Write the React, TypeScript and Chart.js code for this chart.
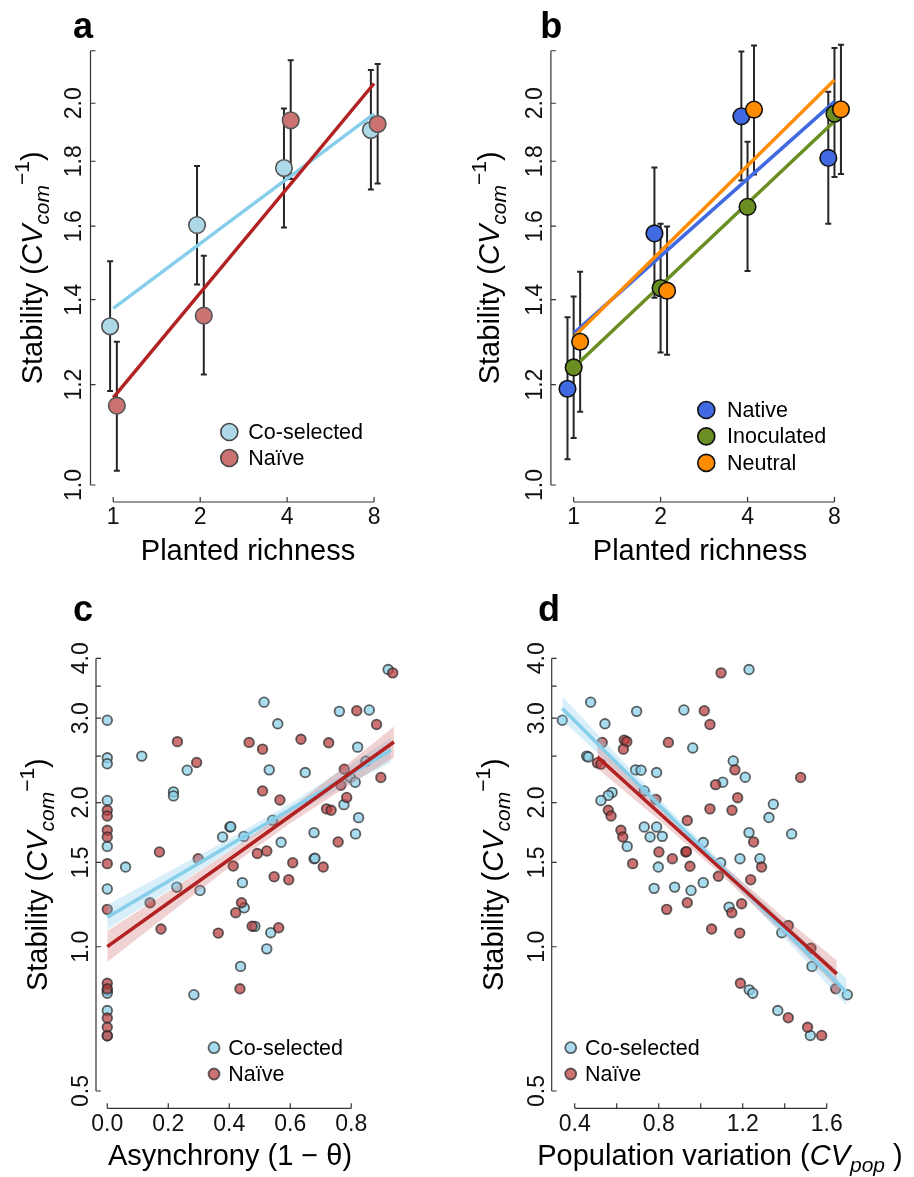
import React, { useEffect, useRef } from "react";
import { Chart, registerables } from "chart.js";
Chart.register(...registerables);

const FONT = '"Liberation Sans", Arial, Helvetica, sans-serif';

// ---------------- Panel a: planted richness, co-selected vs naive ----------------
const richness = [1, 2, 4, 8];
const aCoMean = [1.334, 1.603, 1.778, 1.905];
const aCoLo = [1.186, 1.439, 1.596, 1.71];
const aCoHi = [1.501, 1.785, 1.981, 2.124];
const aNaMean = [1.155, 1.36, 1.939, 1.926];
const aNaLo = [1.026, 1.222, 1.743, 1.729];
const aNaHi = [1.297, 1.516, 2.162, 2.148];
const fitRichness = [1, 8];
const aCoFit = [1.378, 1.962];
const aNaFit = [1.172, 2.073];

// ---------------- Panel b: native / inoculated / neutral ----------------
const bNatMean = [1.191, 1.579, 1.953, 1.811];
const bNatLo = [1.048, 1.405, 1.738, 1.607];
const bNatHi = [1.356, 1.78, 2.197, 2.042];
const bInoMean = [1.238, 1.43, 1.657, 1.962];
const bInoLo = [1.089, 1.272, 1.475, 1.749];
const bInoHi = [1.408, 1.607, 1.865, 2.211];
const bNeuMean = [1.297, 1.423, 1.977, 1.978];
const bNeuLo = [1.142, 1.267, 1.757, 1.759];
const bNeuHi = [1.473, 1.599, 2.221, 2.224];
const bNatFit = [1.317, 2.006];
const bInoFit = [1.238, 1.936];
const bNeuFit = [1.308, 2.086];

// ---------------- Panel c: asynchrony ----------------
const cCoX = [0, 0, 0, 0, 0, 0, 0.06, 0.113, 0.217, 0.217, 0.262, 0.228, 0.304, 0.378, 0.402, 0.405, 0.448, 0.443, 0.449, 0.484, 0.536, 0.514, 0.559, 0.531, 0.542, 0.57, 0.649, 0.678, 0.678, 0.681, 0.761, 0.859, 0.821, 0.848, 0.796, 0.813, 0.776, 0.824, 0.814, 0.921, 0.523, 0.437, 0.284, 0, 0, 0, 0];
const cCoY = [2.97, 2.48, 2.41, 2.02, 1.62, 1.32, 1.467, 2.5, 2.105, 2.065, 2.336, 1.332, 1.311, 1.695, 1.778, 1.781, 1.7, 1.361, 1.206, 1.103, 1.07, 3.24, 2.92, 2.34, 1.837, 1.652, 2.31, 1.731, 1.527, 1.53, 3.1, 3.12, 2.61, 2.44, 2.26, 2.205, 1.98, 1.86, 1.72, 3.79, 0.99, 0.91, 0.794, 0.81, 0.8, 0.736, 0.652];
const cNaX = [0, 0, 0, 0, 0, 0, 0.23, 0.293, 0.171, 0.298, 0.14, 0.176, 0.364, 0.413, 0.44, 0.421, 0.465, 0.509, 0.509, 0.566, 0.492, 0.523, 0.547, 0.595, 0.608, 0.475, 0.562, 0.635, 0.726, 0.708, 0.757, 0.719, 0.734, 0.766, 0.777, 0.785, 0.818, 0.883, 0.897, 0.936, 0, 0, 0, 0, 0, 0.435];
const cNaY = [1.927, 1.875, 1.75, 1.695, 1.491, 1.197, 2.68, 2.425, 1.577, 1.527, 1.236, 1.089, 1.068, 1.474, 1.236, 1.178, 2.67, 2.585, 2.115, 2.025, 1.565, 1.585, 1.4, 1.38, 1.498, 1.104, 1.096, 2.71, 2.665, 1.467, 1.655, 1.94, 1.927, 2.174, 2.348, 2.049, 3.11, 2.91, 2.256, 3.73, 0.839, 0.817, 0.71, 0.679, 0.652, 0.817];
const cCoFitX = [0, 0.2, 0.4, 0.6, 0.8, 0.93];
const cCoFit = [1.153, 1.37, 1.628, 1.935, 2.3, 2.573];
const cCoUpper = [1.224, 1.433, 1.678, 1.99, 2.406, 2.732];
const cCoLower = [1.086, 1.31, 1.58, 1.882, 2.199, 2.423];
const cNaFitX = [0, 0.2, 0.4, 0.6, 0.8, 0.94];
const cNaFit = [1.001, 1.234, 1.521, 1.875, 2.311, 2.676];
const cNaUpper = [1.079, 1.304, 1.58, 1.942, 2.442, 2.884];
const cNaLower = [0.929, 1.168, 1.465, 1.811, 2.188, 2.482];

// ---------------- Panel d: population variation ----------------
const dCoX = [0.341, 0.476, 0.544, 0.457, 0.465, 0.695, 0.69, 0.716, 0.79, 0.92, 0.962, 0.578, 0.56, 0.525, 0.731, 0.731, 0.79, 0.759, 0.817, 0.65, 0.798, 0.778, 0.876, 0.954, 1.012, 1.012, 1.095, 1.105, 1.155, 1.212, 1.23, 1.187, 1.23, 1.282, 1.346, 1.325, 1.433, 1.135, 1.386, 1.53, 1.698, 1.231, 1.248, 1.367, 1.522];
const dCoY = [2.97, 3.24, 2.92, 2.5, 2.49, 3.1, 2.34, 2.336, 2.31, 3.12, 2.6, 2.1, 2.07, 2.02, 2.115, 1.778, 1.778, 1.695, 1.7, 1.62, 1.467, 1.324, 1.332, 1.311, 1.361, 1.65, 1.498, 2.205, 2.443, 2.259, 3.79, 1.527, 1.731, 1.527, 1.984, 1.861, 1.72, 1.21, 1.07, 0.91, 0.794, 0.813, 0.8, 0.736, 0.653];
const dNaX = [0.531, 0.636, 0.648, 0.632, 0.508, 0.525, 0.846, 1.017, 1.044, 1.097, 0.56, 0.573, 0.62, 0.629, 0.676, 0.787, 0.801, 0.865, 0.929, 0.932, 0.936, 0.949, 0.838, 0.936, 1.052, 1.186, 1.148, 1.195, 1.238, 1.084, 1.044, 1.149, 1.071, 1.163, 1.176, 1.252, 1.29, 1.476, 1.417, 1.525, 1.643, 1.189, 1.417, 1.509, 1.576];
const dNaY = [2.67, 2.7, 2.68, 2.585, 2.42, 2.405, 2.67, 3.11, 2.91, 3.73, 1.927, 1.875, 1.75, 1.695, 1.491, 2.03, 1.577, 1.527, 1.577, 1.58, 1.834, 1.472, 1.197, 1.236, 1.089, 1.068, 1.178, 1.23, 1.38, 1.403, 1.94, 1.927, 2.18, 2.34, 2.047, 1.655, 1.467, 2.256, 1.108, 0.993, 0.817, 0.839, 0.711, 0.679, 0.653];
const dCoFitX = [0.341, 0.6, 0.9, 1.2, 1.5, 1.695];
const dCoFit = [3.144, 2.422, 1.79, 1.323, 0.978, 0.804];
const dCoUpper = [3.332, 2.516, 1.836, 1.357, 1.023, 0.858];
const dCoLower = [2.967, 2.332, 1.746, 1.291, 0.935, 0.753];
const dNaFitX = [0.508, 0.8, 1.1, 1.4, 1.648];
const dNaFit = [2.491, 1.907, 1.45, 1.102, 0.878];
const dNaUpper = [2.634, 1.975, 1.491, 1.147, 0.937];
const dNaLower = [2.355, 1.841, 1.41, 1.059, 0.823];

// ---------------- Axis ticks ----------------
const richTicks = [1, 2, 4, 8];
const richLabels = ["1", "2", "4", "8"];
const stabTicksAB = [1.0, 1.2, 1.4, 1.6, 1.8, 2.0, 2.2];
const stabLabelsAB = ["1.0", "1.2", "1.4", "1.6", "1.8", "2.0", null];
const stabTicksCD = [0.5, 1.0, 1.5, 2.0, 2.5, 3.0, 3.5, 4.0];
const stabLabelsCD = ["0.5", "1.0", "1.5", "2.0", null, "3.0", null, "4.0"];
const asyncTicks = [0, 0.2, 0.4, 0.6, 0.8];
const asyncLabels = ["0.0", "0.2", "0.4", "0.6", "0.8"];
const cvpopTicks = [0.4, 0.6, 0.8, 1.0, 1.2, 1.4, 1.6];
const cvpopLabels = ["0.4", null, "0.8", null, "1.2", null, "1.6"];

// ---------------- Styles ----------------
const DODGE_A = { co: 0.975, na: 1.029 };
const DODGE_B = { nat: 0.952, ino: 1.0, neu: 1.053 };
const C_LIGHTBLUE = "#ADD8E6";
const C_SKY = "#87CEEB";
const C_PINK = "#CB7373";
const C_FIRE = "#B22222";
const C_ROYAL = "#4169E1";
const C_OLIVE = "#6B8E23";
const C_ORANGE = "#FF8C00";
const SC_BLUE = "rgba(140,208,232,0.75)";
const SC_RED = "rgba(185,60,60,0.72)";
const SC_EDGE = "rgba(40,40,40,0.72)";
const BAND_BLUE = "rgba(135,206,235,0.32)";
const BAND_RED = "rgba(205,92,92,0.28)";

type Seg = { t: string; size: number; italic?: boolean; bold?: boolean; dy?: number };

const segFont = (s: Seg) => `${s.italic ? "italic " : ""}${s.bold ? "bold " : ""}${s.size}px ${FONT}`;

function drawSegs(ctx: CanvasRenderingContext2D, segs: Seg[], x: number, y: number, rot: number) {
  ctx.save();
  ctx.translate(x, y);
  ctx.rotate(rot);
  ctx.textAlign = "left";
  ctx.textBaseline = "alphabetic";
  let total = 0;
  const widths = segs.map((s) => {
    ctx.font = segFont(s);
    const w = ctx.measureText(s.t).width;
    total += w;
    return w;
  });
  let cx = -total / 2;
  segs.forEach((s, i) => {
    ctx.font = segFont(s);
    ctx.fillText(s.t, cx, s.dy || 0);
    cx += widths[i];
  });
  ctx.restore();
}

const stabTitle: Seg[] = [
  { t: "Stability (", size: 29 },
  { t: "CV", size: 29, italic: true },
  { t: "com", size: 21, italic: true, dy: 7 },
  { t: "\u2212", size: 21, dy: -13 },
  { t: "1", size: 21, dy: -13 },
  { t: ")", size: 29 },
];

function pts(xs: number[], ys: number[], fill: string, stroke: string, r: number, bw: number, order: number) {
  return {
    type: "line",
    data: xs.map((x, i) => ({ x, y: ys[i] })),
    showLine: false,
    pointRadius: r,
    pointHoverRadius: r,
    pointBackgroundColor: fill,
    pointBorderColor: stroke,
    pointBorderWidth: bw,
    order,
    clip: false,
  };
}
function fitLine(xs: number[], ys: number[], color: string, w: number, order: number) {
  return {
    type: "line",
    data: xs.map((x, i) => ({ x, y: ys[i] })),
    borderColor: color,
    borderWidth: w,
    pointRadius: 0,
    fill: false,
    tension: 0,
    order,
    clip: false,
  };
}
function bandPair(xs: number[], up: number[], lo: number[], color: string, order: number) {
  return [
    {
      type: "line",
      data: xs.map((x, i) => ({ x, y: up[i] })),
      borderColor: "transparent",
      borderWidth: 0,
      pointRadius: 0,
      backgroundColor: color,
      fill: "+1",
      tension: 0,
      order,
      clip: false,
    },
    {
      type: "line",
      data: xs.map((x, i) => ({ x, y: lo[i] })),
      borderColor: "transparent",
      borderWidth: 0,
      pointRadius: 0,
      fill: false,
      tension: 0,
      order,
      clip: false,
    },
  ];
}

type LegendRow = { label: string; fill: string; stroke: string; r: number; bw: number; y: number };
type Panel = {
  left: number;
  top: number;
  pad: { left: number; top: number; right: number; bottom: number };
  xType: "logarithmic" | "linear";
  xMin: number;
  xMax: number;
  yMin: number;
  yMax: number;
  xTicks: number[];
  xLabels: (string | null)[];
  yTicks: number[];
  yLabels: (string | null)[];
  yLabelOff: number;
  datasets: any[];
  errorBars: { x: number[]; lo: number[]; hi: number[] }[];
  letter: { t: string; x: number; y: number };
  yTitleX: number;
  xTitle: Seg[];
  xTitleX: number;
  xTitleY: number;
  legendCircleX: number;
  legendTextX: number;
  legend: LegendRow[];
};

function decorPlugin(p: Panel) {
  return {
    id: "decor",
    beforeDatasetsDraw(chart: any) {
      const ctx: CanvasRenderingContext2D = chart.ctx;
      const xs = chart.scales.x;
      const ys = chart.scales.y;
      ctx.save();
      ctx.strokeStyle = "#262626";
      ctx.lineWidth = 2;
      p.errorBars.forEach((g) => {
        g.x.forEach((xv, i) => {
          const px = xs.getPixelForValue(xv);
          const pl = ys.getPixelForValue(g.lo[i]);
          const ph = ys.getPixelForValue(g.hi[i]);
          ctx.beginPath();
          ctx.moveTo(px, pl);
          ctx.lineTo(px, ph);
          ctx.moveTo(px - 3, pl);
          ctx.lineTo(px + 3, pl);
          ctx.moveTo(px - 3, ph);
          ctx.lineTo(px + 3, ph);
          ctx.stroke();
        });
      });
      ctx.restore();
    },
    afterDraw(chart: any) {
      const ctx: CanvasRenderingContext2D = chart.ctx;
      const xs = chart.scales.x;
      const ys = chart.scales.y;
      const { left, bottom } = chart.chartArea;
      ctx.save();
      ctx.strokeStyle = "#333";
      ctx.fillStyle = "#111";
      ctx.lineWidth = 1.2;
      // y axis
      const yT = ys.getPixelForValue(p.yTicks[p.yTicks.length - 1]);
      const yB = ys.getPixelForValue(p.yTicks[0]);
      ctx.beginPath();
      ctx.moveTo(left, yT);
      ctx.lineTo(left, yB);
      p.yTicks.forEach((t) => {
        const py = ys.getPixelForValue(t);
        ctx.moveTo(left, py);
        ctx.lineTo(left + 5, py);
      });
      // x axis
      const xL = xs.getPixelForValue(p.xTicks[0]);
      const xR = xs.getPixelForValue(p.xTicks[p.xTicks.length - 1]);
      ctx.moveTo(xL, bottom);
      ctx.lineTo(xR, bottom);
      p.xTicks.forEach((t) => {
        const px = xs.getPixelForValue(t);
        ctx.moveTo(px, bottom);
        ctx.lineTo(px, bottom - 5);
      });
      ctx.stroke();
      // tick labels
      ctx.font = `23px ${FONT}`;
      ctx.textAlign = "center";
      ctx.textBaseline = "middle";
      p.yTicks.forEach((t, i) => {
        const lab = p.yLabels[i];
        if (!lab) return;
        const py = ys.getPixelForValue(t);
        ctx.save();
        ctx.translate(left - p.yLabelOff, py);
        ctx.rotate(-Math.PI / 2);
        ctx.fillText(lab, 0, 1);
        ctx.restore();
      });
      p.xTicks.forEach((t, i) => {
        const lab = p.xLabels[i];
        if (!lab) return;
        const px = xs.getPixelForValue(t);
        ctx.fillText(lab, px, bottom + 16);
      });
      // titles
      ctx.fillStyle = "#000";
      drawSegs(ctx, stabTitle, p.yTitleX, (yT + yB) / 2, -Math.PI / 2);
      drawSegs(ctx, p.xTitle, p.xTitleX, p.xTitleY, 0);
      // panel letter
      ctx.font = `bold 36px ${FONT}`;
      ctx.textAlign = "left";
      ctx.textBaseline = "alphabetic";
      ctx.fillText(p.letter.t, p.letter.x, p.letter.y);
      // legend
      ctx.font = `21.5px ${FONT}`;
      ctx.textBaseline = "middle";
      p.legend.forEach((row) => {
        ctx.beginPath();
        ctx.arc(p.legendCircleX, row.y, row.r, 0, Math.PI * 2);
        ctx.fillStyle = row.fill;
        ctx.fill();
        ctx.lineWidth = row.bw;
        ctx.strokeStyle = row.stroke;
        ctx.stroke();
        ctx.fillStyle = "#000";
        ctx.fillText(row.label, p.legendTextX, row.y + 1);
      });
      ctx.restore();
    },
  };
}

const W = 457;
const H = 589;

const panels: Panel[] = [
  {
    left: 0,
    top: 0,
    pad: { left: 90.5, top: 33.5, right: 60.2, bottom: 87 },
    xType: "logarithmic",
    xMin: 0.834,
    xMax: 9.59,
    yMin: 0.9696,
    yMax: 2.27,
    xTicks: richTicks,
    xLabels: richLabels,
    yTicks: stabTicksAB,
    yLabels: stabLabelsAB,
    yLabelOff: 16.5,
    datasets: [
      pts(richness.map((v) => v * DODGE_A.na), aNaMean, C_PINK, "#555", 8.3, 1.6, 0),
      pts(richness.map((v) => v * DODGE_A.co), aCoMean, C_LIGHTBLUE, "#555", 8.3, 1.6, 1),
      fitLine(fitRichness, aNaFit, C_FIRE, 3.5, 2),
      fitLine(fitRichness, aCoFit, C_SKY, 3.5, 3),
    ],
    errorBars: [
      { x: richness.map((v) => v * DODGE_A.co), lo: aCoLo, hi: aCoHi },
      { x: richness.map((v) => v * DODGE_A.na), lo: aNaLo, hi: aNaHi },
    ],
    letter: { t: "a", x: 73, y: 37.5 },
    yTitleX: 42,
    xTitle: [{ t: "Planted richness", size: 29 }],
    xTitleX: 248,
    xTitleY: 559.5,
    legendCircleX: 229.3,
    legendTextX: 248.3,
    legend: [
      { label: "Co-selected", fill: C_LIGHTBLUE, stroke: "#444", r: 8.5, bw: 1.6, y: 432 },
      { label: "Naïve", fill: C_PINK, stroke: "#444", r: 8.5, bw: 1.6, y: 458 },
    ],
  },
  {
    left: 457,
    top: 0,
    pad: { left: 93.9, top: 33.5, right: 56.8, bottom: 87 },
    xType: "logarithmic",
    xMin: 0.834,
    xMax: 9.59,
    yMin: 0.9696,
    yMax: 2.27,
    xTicks: richTicks,
    xLabels: richLabels,
    yTicks: stabTicksAB,
    yLabels: stabLabelsAB,
    yLabelOff: 16.5,
    datasets: [
      pts(richness.map((v) => v * DODGE_B.neu), bNeuMean, C_ORANGE, "#111", 8.3, 1.6, 0),
      pts(richness.map((v) => v * DODGE_B.ino), bInoMean, C_OLIVE, "#111", 8.3, 1.6, 1),
      pts(richness.map((v) => v * DODGE_B.nat), bNatMean, C_ROYAL, "#111", 8.3, 1.6, 2),
      fitLine(fitRichness, bNeuFit, C_ORANGE, 3.5, 3),
      fitLine(fitRichness, bNatFit, C_ROYAL, 3.5, 4),
      fitLine(fitRichness, bInoFit, C_OLIVE, 3.5, 5),
    ],
    errorBars: [
      { x: richness.map((v) => v * DODGE_B.nat), lo: bNatLo, hi: bNatHi },
      { x: richness.map((v) => v * DODGE_B.ino), lo: bInoLo, hi: bInoHi },
      { x: richness.map((v) => v * DODGE_B.neu), lo: bNeuLo, hi: bNeuHi },
    ],
    letter: { t: "b", x: 83.3, y: 37.5 },
    yTitleX: 42,
    xTitle: [{ t: "Planted richness", size: 29 }],
    xTitleX: 243,
    xTitleY: 559.5,
    legendCircleX: 249.3,
    legendTextX: 270,
    legend: [
      { label: "Native", fill: C_ROYAL, stroke: "#111", r: 8.5, bw: 1.6, y: 410 },
      { label: "Inoculated", fill: C_OLIVE, stroke: "#111", r: 8.5, bw: 1.6, y: 436.4 },
      { label: "Neutral", fill: C_ORANGE, stroke: "#111", r: 8.5, bw: 1.6, y: 462.9 },
    ],
  },
  {
    left: 0,
    top: 588,
    pad: { left: 96, top: 53, right: 48.4, bottom: 68.7 },
    xType: "linear",
    xMin: -0.037,
    xMax: 0.988,
    yMin: 0.4601,
    yMax: 4.347,
    xTicks: asyncTicks,
    xLabels: asyncLabels,
    yTicks: stabTicksCD,
    yLabels: stabLabelsCD,
    yLabelOff: 15,
    datasets: [
      fitLine(cNaFitX, cNaFit, C_FIRE, 3.5, 0),
      fitLine(cCoFitX, cCoFit, C_SKY, 3.5, 1),
      ...bandPair(cNaFitX, cNaUpper, cNaLower, BAND_RED, 2),
      ...bandPair(cCoFitX, cCoUpper, cCoLower, BAND_BLUE, 3),
      pts(cNaX, cNaY, SC_RED, SC_EDGE, 4.8, 1.8, 4),
      pts(cCoX, cCoY, SC_BLUE, SC_EDGE, 4.8, 1.8, 5),
    ],
    errorBars: [],
    letter: { t: "c", x: 73, y: 33 },
    yTitleX: 47,
    xTitle: [{ t: "Asynchrony (1 \u2212 \u03b8)", size: 29 }],
    xTitleX: 230,
    xTitleY: 577.3,
    legendCircleX: 214,
    legendTextX: 228.3,
    legend: [
      { label: "Co-selected", fill: SC_BLUE, stroke: SC_EDGE, r: 5.5, bw: 1.8, y: 459.7 },
      { label: "Naïve", fill: SC_RED, stroke: SC_EDGE, r: 5.5, bw: 1.8, y: 486 },
    ],
  },
  {
    left: 457,
    top: 588,
    pad: { left: 94.7, top: 53, right: 53.7, bottom: 68.7 },
    xType: "linear",
    xMin: 0.2905,
    xMax: 1.76,
    yMin: 0.4601,
    yMax: 4.347,
    xTicks: cvpopTicks,
    xLabels: cvpopLabels,
    yTicks: stabTicksCD,
    yLabels: stabLabelsCD,
    yLabelOff: 15,
    datasets: [
      fitLine(dNaFitX, dNaFit, C_FIRE, 3.5, 0),
      fitLine(dCoFitX, dCoFit, C_SKY, 3.5, 1),
      ...bandPair(dNaFitX, dNaUpper, dNaLower, BAND_RED, 2),
      ...bandPair(dCoFitX, dCoUpper, dCoLower, BAND_BLUE, 3),
      pts(dNaX, dNaY, SC_RED, SC_EDGE, 4.8, 1.8, 4),
      pts(dCoX, dCoY, SC_BLUE, SC_EDGE, 4.8, 1.8, 5),
    ],
    errorBars: [],
    letter: { t: "d", x: 81, y: 33 },
    yTitleX: 46,
    xTitle: [
      { t: "Population variation (", size: 29 },
      { t: "CV", size: 29, italic: true },
      { t: "pop", size: 21, italic: true, dy: 7 },
      { t: " )", size: 29 },
    ],
    xTitleX: 263,
    xTitleY: 577.3,
    legendCircleX: 113.7,
    legendTextX: 128,
    legend: [
      { label: "Co-selected", fill: SC_BLUE, stroke: SC_EDGE, r: 5.5, bw: 1.8, y: 459.7 },
      { label: "Naïve", fill: SC_RED, stroke: SC_EDGE, r: 5.5, bw: 1.8, y: 486 },
    ],
  },
];

function PanelChart({ p }: { p: Panel }) {
  const ref = useRef<HTMLCanvasElement | null>(null);
  useEffect(() => {
    if (!ref.current) return;
    const chart = new Chart(ref.current, {
      type: "line",
      data: { datasets: p.datasets },
      options: {
        responsive: false,
        animation: false,
        devicePixelRatio: 1,
        events: [],
        layout: { padding: p.pad },
        plugins: {
          legend: { display: false },
          tooltip: { enabled: false },
          title: { display: false },
        },
        scales: {
          x: { type: p.xType, min: p.xMin, max: p.xMax, display: false },
          y: { type: "logarithmic", min: p.yMin, max: p.yMax, display: false },
        },
      } as any,
      plugins: [decorPlugin(p) as any],
    } as any);
    return () => chart.destroy();
  }, [p]);
  return (
    <canvas
      ref={ref}
      width={W}
      height={H}
      style={{ position: "absolute", left: p.left, top: p.top, width: W, height: H }}
    />
  );
}

export default function App() {
  return (
    <div style={{ position: "absolute", left: 0, top: 0, width: 914, height: 1177, background: "#fff" }}>
      {panels.map((p, i) => (
        <PanelChart key={i} p={p} />
      ))}
    </div>
  );
}
